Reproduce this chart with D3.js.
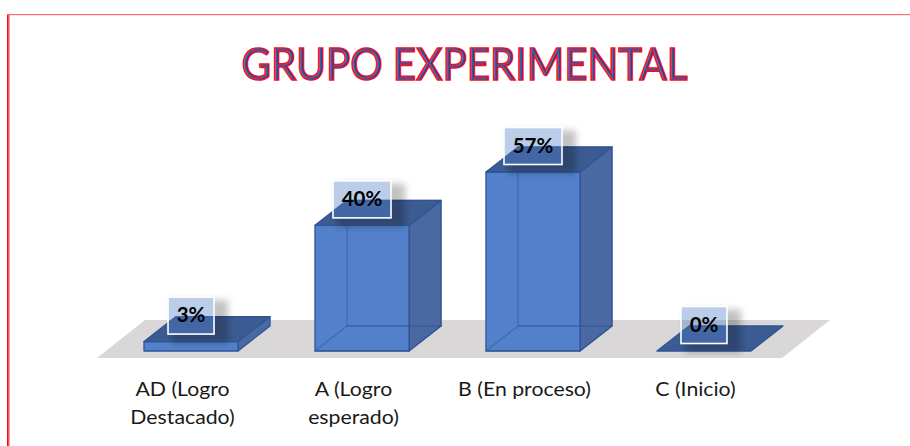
<!DOCTYPE html>
<html>
<head>
<meta charset="utf-8">
<script src="https://cdn.jsdelivr.net/npm/d3@7/dist/d3.min.js"></script>
<style>
html,body{margin:0;padding:0;background:#fff;}
svg{display:block;}
</style>
</head>
<body>
<svg id="c" width="910" height="446"></svg>
<script>
const titleText = "GRUPO EXPERIMENTAL";
const categories = ["AD (Logro Destacado)", "A (Logro esperado)", "B (En proceso)", "C (Inicio)"];
const tickLines = [["AD (Logro", "Destacado)"], ["A (Logro", "esperado)"], ["B (En proceso)"], ["C (Inicio)"]];
const values = [3, 40, 57, 0];
const labels = ["3%", "40%", "57%", "0%"];

const svg = d3.select("#c");
const defs = svg.append("defs");
const blur = defs.append("filter").attr("id","blur").attr("x","-40%").attr("y","-40%").attr("width","180%").attr("height","180%");
blur.append("feGaussianBlur").attr("stdDeviation",3.5);

// frame
svg.append("rect").attr("x",8).attr("y",14).attr("width",2).attr("height",432).attr("fill","#ff9a9a");
svg.append("rect").attr("x",7).attr("y",14).attr("width",1.5).attr("height",432).attr("fill","#f01020");
svg.append("rect").attr("x",7).attr("y",14).attr("width",903).attr("height",1.2).attr("fill","#ff6a6a");

// title
svg.append("text").text(titleText)
  .attr("x",464.5).attr("y",79.5).attr("text-anchor","middle")
  .attr("font-family","Lato, 'Open Sans', sans-serif").attr("font-size",45)
  .attr("textLength",446).attr("lengthAdjust","spacingAndGlyphs")
  .attr("fill","#1f60b8").attr("stroke","#f2101f").attr("stroke-width",1.7);

const x = d3.scaleBand().domain(categories).range([144,751]).paddingInner(0.45).paddingOuter(0);
const y = d3.scaleLinear().domain([0,57]).range([351,172]);
const dx = 32, dy = -25;
const bw = x.bandwidth();

// floor
const fy0 = y(0)+7, fy1 = y(0)-31, skew = 48;
const fl = x.range()[0]-47, fr = x.range()[1]+31;
svg.append("polygon")
  .attr("points",[[fl,fy0],[fl+skew,fy1],[fr+skew,fy1],[fr,fy0]].join(" "))
  .attr("fill","#d9d7d8");

const g = svg.selectAll("g.bar").data(values).join("g").attr("class","bar");
const edge = "#2f5597";
function poly(sel, fn, fill, op, sw){
  sel.append("polygon").attr("points",(d,i)=>fn(d,i).join(" "))
    .attr("fill",fill).attr("fill-opacity",op)
    .attr("stroke",edge).attr("stroke-width",sw||1.3).attr("stroke-linejoin","round");
}
const L = (d,i)=>x(categories[i]);
const T = d=>y(d), B = y(0);
const raised = g.filter(d=>d>0);
const back = (d,i)=>[[L(d,i)+dx,T(d)+dy],[L(d,i)+bw+dx,T(d)+dy],[L(d,i)+bw+dx,B+dy],[L(d,i)+dx,B+dy]];
const foot = (d,i)=>[[L(d,i),B],[L(d,i)+bw,B],[L(d,i)+bw+dx,B+dy],[L(d,i)+dx,B+dy]];
// right, front faces
poly(raised,(d,i)=>[[L(d,i)+bw,T(d)],[L(d,i)+bw+dx,T(d)+dy],[L(d,i)+bw+dx,B+dy],[L(d,i)+bw,B]],"#4a69a3",1);
poly(raised,(d,i)=>[[L(d,i),T(d)],[L(d,i)+bw,T(d)],[L(d,i)+bw,B],[L(d,i),B]],"#5280ca",1);
// hidden edges seen through the glass
const hidden = raised.filter(d=>d>10);
hidden.append("polygon").attr("points",d=>back(d,values.indexOf(d)).join(" ")).attr("fill","none").attr("stroke",edge).attr("stroke-opacity",0.55).attr("stroke-width",1.1);
hidden.append("polygon").attr("points",d=>foot(d,values.indexOf(d)).join(" ")).attr("fill","none").attr("stroke",edge).attr("stroke-opacity",0.55).attr("stroke-width",1.1);
poly(g,(d,i)=>[[L(d,i),T(d)],[L(d,i)+bw,T(d)],[L(d,i)+bw+dx,T(d)+dy],[L(d,i)+dx,T(d)+dy]],"#3c5b92",1);

// data labels
const lh = 37;
const lw = labels.map(s=>s.length===2?46:58);
const lcx = (d,i)=>x(categories[i])+bw/2;
const ltop = (d,i)=>T(d)+dy-19.5;
defs.selectAll("clipPath").data(values).join("clipPath").attr("id",(d,i)=>"sh"+i)
  .append("path").attr("clip-rule","evenodd")
  .attr("d",(d,i)=>`M0 0H910V446H0Z M${lcx(d,i)-lw[i]/2} ${ltop(d,i)}h${lw[i]}v${lh}h${-lw[i]}Z`);
const lg = svg.selectAll("g.lab").data(values).join("g").attr("class","lab");
lg.append("g").attr("clip-path",(d,i)=>`url(#sh${i})`)
  .append("rect").attr("x",(d,i)=>lcx(d,i)-lw[i]/2+4).attr("y",(d,i)=>ltop(d,i)+3)
  .attr("width",(d,i)=>lw[i]+10).attr("height",lh+6).attr("fill","#000").attr("fill-opacity",0.24).attr("filter","url(#blur)");
lg.append("rect").attr("x",(d,i)=>lcx(d,i)-lw[i]/2).attr("y",ltop)
  .attr("width",(d,i)=>lw[i]).attr("height",lh)
  .attr("fill","#4f7cc6").attr("fill-opacity",0.38).attr("stroke","#fff").attr("stroke-width",1.6);
lg.append("text").text((d,i)=>labels[i])
  .attr("x",lcx).attr("y",(d,i)=>ltop(d,i)+25).attr("text-anchor","middle")
  .attr("font-family","Lato, 'Open Sans', sans-serif").attr("font-weight",700).attr("font-size",20.5).attr("fill","#000");

// category axis
const axis = svg.append("g").attr("transform","translate(-8.5,"+(y(0)+6)+")")
  .call(d3.axisBottom(x).tickSize(0).tickPadding(0).tickFormat(""));
axis.select(".domain").remove();
axis.selectAll(".tick").each(function(c,i){
  const t = d3.select(this).select("text").text(null).attr("y",0).attr("dy",null)
    .attr("transform","scale(1.12,1)")
    .attr("font-family","Lato, sans-serif").attr("font-size",19).attr("fill","#1a1a1a");
  tickLines[i].forEach((s,k)=>t.append("tspan").attr("x",0).attr("y",39+k*28).text(s));
});
</script>
</body>
</html>
